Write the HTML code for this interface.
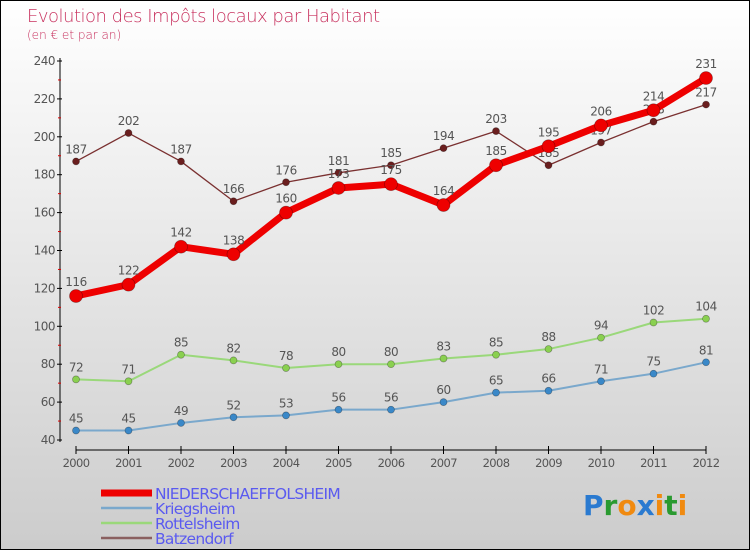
<!DOCTYPE html>
<html><head><meta charset="utf-8"><style>
html,body{margin:0;padding:0}
body{width:750px;height:550px;overflow:hidden;font-family:"DejaVu Sans","Liberation Sans",sans-serif}
#wrap{position:relative;width:748px;height:548px;border:1px solid #000;background:linear-gradient(#fff,#ccc)}
.t{position:absolute;color:#c8325f;font-weight:200}
</style></head><body>
<div id="wrap">
<div class="t" style="left:26px;top:5px;font-size:18px;letter-spacing:-0.5px">Evolution des Impôts locaux par Habitant</div>
<div class="t" style="left:26px;top:27px;font-size:12px">(en € et par an)</div>
<svg id="c" width="750" height="550" style="position:absolute;left:-1px;top:-1px"></svg>
</div>
<script>
const years=[2000,2001,2002,2003,2004,2005,2006,2007,2008,2009,2010,2011,2012];
const niederschaeffolsheim=[116,122,142,138,160,173,175,164,185,195,206,214,231];
const kriegsheim=[45,45,49,52,53,56,56,60,65,66,71,75,81];
const rottelsheim=[72,71,85,82,78,80,80,83,85,88,94,102,104];
const batzendorf=[187,202,187,166,176,181,185,194,203,185,197,208,217];
const yTicks=[40,60,80,100,120,140,160,180,200,220,240];
const NS="http://www.w3.org/2000/svg";
const svg=document.getElementById('c');
const X=i=>76+i*(706-76)/12;
const Y=v=>440-(v-40)*(440-61)/200;
function mk(t,a,p){const e=document.createElementNS(NS,t);for(const k in a)e.setAttribute(k,a[k]);(p||svg).appendChild(e);return e;}
const ax=mk('g',{});


mk('line',{x1:60,y1:58,x2:60,y2:442,stroke:'#000','stroke-width':1},ax);
mk('line',{x1:76,y1:450,x2:706,y2:450,stroke:'#000','stroke-width':1},ax);
yTicks.forEach((v,i)=>{
  mk('line',{x1:57,y1:Y(v),x2:62,y2:Y(v),stroke:'#000'},ax);
  if(i<yTicks.length-1)mk('line',{x1:58,y1:Y(v+10),x2:61,y2:Y(v+10),stroke:'#d00'},ax);
  const t=mk('text',{x:55,y:Y(v)+4,'text-anchor':'end','font-size':12,fill:'#555','font-family':'DejaVu Sans, sans-serif','letter-spacing':'-0.5'},ax);
  t.textContent=v;
  
  
});
years.forEach((y,i)=>{
  mk('line',{x1:X(i),y1:446,x2:X(i),y2:454,stroke:'#000'},ax);
  const t=mk('text',{x:X(i),y:467,'text-anchor':'middle','font-size':11.5,fill:'#555','font-family':'DejaVu Sans, sans-serif','letter-spacing':'-0.6'},ax);
  t.textContent=y;
  
  
});
function series(name,data,color,w,r,dot,labelOff){
  const g=mk('g',{});
  
  
  mk('polyline',{points:data.map((v,i)=>X(i)+','+Y(v)).join(' '),fill:'none',stroke:color,'stroke-width':w,'stroke-linejoin':'round'},g);
  data.forEach((v,i)=>{
    const c=mk('circle',{cx:X(i),cy:Y(v),r:r,fill:dot,stroke:'rgba(0,0,0,0.35)','stroke-width':0.7},g);
    
    
    const t=mk('text',{x:X(i),y:Y(v)-labelOff,'text-anchor':'middle','font-size':12,fill:'#555','font-family':'DejaVu Sans, sans-serif','letter-spacing':'-0.5'},g);
    t.textContent=v;
    
    
  });
}
series('batzendorf',batzendorf,'#7a3030',1.3,3.5,'#6a1e1e',8);
series('rottelsheim',rottelsheim,'#9ad87a',2,3.5,'#8ad050',8);
series('kriegsheim',kriegsheim,'#7aa8cc',2,3.5,'#3a88c8',8);
series('niederschaeffolsheim',niederschaeffolsheim,'#ee0000',7,6.5,'#ee0000',10);
const legend=[['NIEDERSCHAEFFOLSHEIM','#ee0000',7],['Kriegsheim','#7aa8cc',2.5],['Rottelsheim','#9ad87a',2.5],['Batzendorf','#8a6060',2.5]];
legend.forEach((l,i)=>{
  const g=mk('g',{});
  
  
  const y=493+i*15;
  mk('line',{x1:101,y1:y,x2:152,y2:y,stroke:l[1],'stroke-width':l[2]},g);
  const t=mk('text',{x:155,y:y+6,'font-size':15.5,fill:'#5a5af0','font-family':'DejaVu Sans, sans-serif','letter-spacing':'-0.7'},g);
  t.textContent=l[0];
});
const p=mk('text',{x:583,y:515,'font-size':28,'font-weight':'bold','font-family':'DejaVu Sans, sans-serif'});


[['P','#2a7ad0'],['r','#2a9a30'],['o','#f08a10'],['x','#2a7ad0'],['i','#f08a10'],['t','#2a9a30'],['i','#f08a10']].forEach(a=>{const s=mk('tspan',{fill:a[1]},p);s.textContent=a[0];});
</script>
</body></html>
